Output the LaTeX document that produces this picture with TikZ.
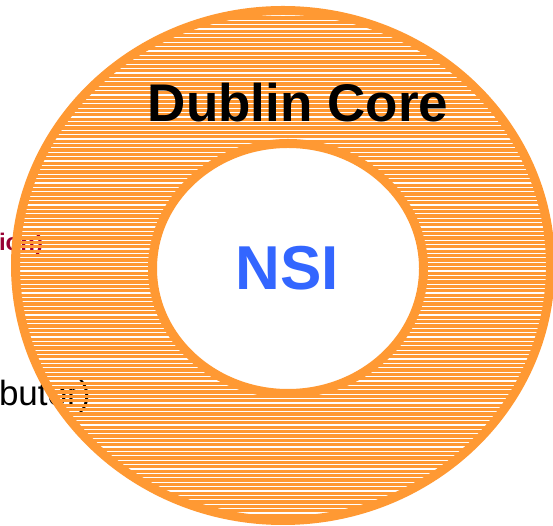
\documentclass[tikz,border=0pt]{standalone}
\usepackage{fontspec}
\setmainfont{Liberation Sans}
\definecolor{dcorange}{RGB}{255,153,51}
\definecolor{nsiblue}{RGB}{51,102,255}
\definecolor{darkred}{RGB}{153,0,51}
\tikzset{
  lbl/.style={inner sep=0pt, outer sep=0pt},
  ring/.style={draw=dcorange, line width=9pt},
  stripe/.style={draw=dcorange, line width=3.3pt}
}
\begin{document}
\begin{tikzpicture}[x=1pt,y=1pt]
\useasboundingbox (0,0) rectangle (553,526);
\fill[white] (0,0) rectangle (553,526);
% partially hidden texts behind the ring
\node[lbl, anchor=base west, text=darkred, font=\bfseries\fontsize{24}{24}\selectfont] (t1) at (-1,275) {ion)};
\node[lbl, anchor=base west, text=black, font=\fontsize{35}{35}\selectfont] (t2) at (-1,120) {butor)};
% striped ring
\coordinate (oc) at (283,260.5);
\coordinate (ic) at (288,257.5);
\begin{scope}
  \clip (oc) ellipse [x radius=267.5, y radius=255];
  \foreach \k in {0,...,120} {
    \draw[stripe] (0,{512.4-4.4*\k}) -- (553,{512.4-4.4*\k});
  }
\end{scope}
\draw[ring] (oc) ellipse [x radius=267.5, y radius=255];
\draw[ring, fill=white] (ic) ellipse [x radius=135.5, y radius=125];
\node[lbl, anchor=base, font=\bfseries\fontsize{53}{53}\selectfont] (dc) at (298,404) {Dublin Core};
\node[lbl, anchor=base, text=nsiblue, font=\bfseries\fontsize{62}{62}\selectfont] (nsi) at (287,236) {NSI};
\end{tikzpicture}
\end{document}
